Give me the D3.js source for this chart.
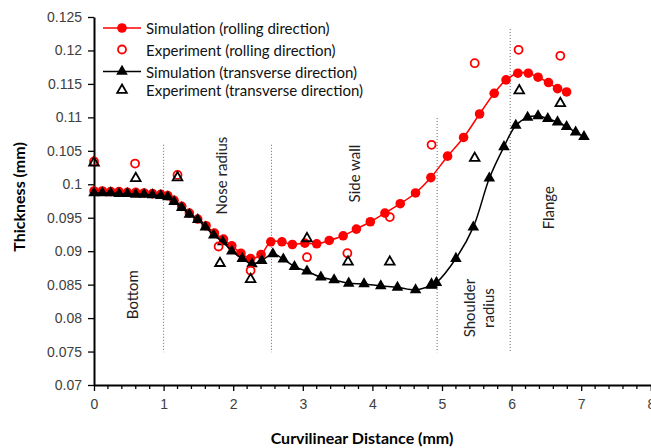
<!DOCTYPE html>
<html>
<head>
<meta charset="utf-8">
<script src="https://cdn.jsdelivr.net/npm/d3@7/dist/d3.min.js"></script>
<style>
  body { margin: 0; background: #fff; }
  svg { display: block; font-family: Lato, 'Open Sans', sans-serif; }
</style>
</head>
<body>
<script>
// Simulation, rolling direction
const simRollX = [0, 0.12, 0.24, 0.36, 0.48, 0.60, 0.72, 0.84, 0.96, 1.06, 1.15, 1.26, 1.37, 1.49, 1.61, 1.73, 1.86, 1.98, 2.11, 2.25, 2.40, 2.54, 2.70, 2.85, 3.03, 3.20, 3.38, 3.58, 3.77, 3.97, 4.18, 4.40, 4.62, 4.84, 5.08, 5.31, 5.54, 5.75, 5.92, 6.09, 6.24, 6.38, 6.53, 6.66, 6.79]
const simRollY = [0.0990, 0.0990, 0.0989, 0.0989, 0.0988, 0.0988, 0.0987, 0.0986, 0.0985, 0.0983, 0.0976, 0.0967, 0.0957, 0.0948, 0.0938, 0.0927, 0.0918, 0.0908, 0.0897, 0.0889, 0.0895, 0.0914, 0.0914, 0.0910, 0.0912, 0.0911, 0.0916, 0.0923, 0.0933, 0.0944, 0.0957, 0.0971, 0.0987, 0.1010, 0.1042, 0.1070, 0.1105, 0.1136, 0.1156, 0.1166, 0.1166, 0.1160, 0.1152, 0.1143, 0.1138]

// Experiment, rolling direction
const expRollX = [0, 0.59, 1.20, 1.79, 2.25, 3.06, 3.64, 4.25, 4.85, 5.47, 6.10, 6.70]
const expRollY = [0.1034, 0.1031, 0.1014, 0.0907, 0.0871, 0.0891, 0.0897, 0.0951, 0.1059, 0.1181, 0.1201, 0.1192]

// Simulation, transverse direction
const simTransX = [0, 0.12, 0.24, 0.36, 0.48, 0.60, 0.72, 0.84, 0.96, 1.06, 1.15, 1.26, 1.37, 1.49, 1.60, 1.72, 1.85, 1.98, 2.13, 2.27, 2.41, 2.57, 2.72, 2.88, 3.06, 3.26, 3.45, 3.66, 3.88, 4.12, 4.36, 4.62, 4.85, 4.92, 5.20, 5.45, 5.68, 5.89, 6.06, 6.23, 6.38, 6.52, 6.66, 6.79, 6.92, 7.04]
const simTransY = [0.0987, 0.0987, 0.0987, 0.0986, 0.0986, 0.0985, 0.0985, 0.0984, 0.0983, 0.0981, 0.0974, 0.0965, 0.0955, 0.0947, 0.0936, 0.0924, 0.0914, 0.0900, 0.0889, 0.0881, 0.0886, 0.0896, 0.0888, 0.0877, 0.0870, 0.0861, 0.0857, 0.0852, 0.0851, 0.0848, 0.0846, 0.0842, 0.0849, 0.0853, 0.0889, 0.0936, 0.1009, 0.1056, 0.1088, 0.1100, 0.1102, 0.1098, 0.1093, 0.1086, 0.1078, 0.1071]

// Experiment, transverse direction
const expTransX = [0, 0.60, 1.20, 1.81, 2.25, 3.06, 3.65, 4.25, 4.85, 5.47, 6.11, 6.70]
const expTransY = [0.1032, 0.1009, 0.1010, 0.0882, 0.0858, 0.0919, 0.0884, 0.0884, 0.0850, 0.1039, 0.1140, 0.1121]

const xTicks = [0, 1, 2, 3, 4, 5, 6, 7, 8]
const yTicks = [0.07, 0.075, 0.08, 0.085, 0.09, 0.095, 0.1, 0.105, 0.11, 0.115, 0.12, 0.125]
const yTickLabels = ['0.07', '0.075', '0.08', '0.085', '0.09', '0.095', '0.1', '0.105', '0.11', '0.115', '0.12', '0.125']

// Region dividers: x position, top and bottom (mm)
const dividerX = [1.0, 2.55, 4.93, 5.98]
const dividerTop = [0.1059, 0.1059, 0.1099, 0.1232]
const dividerBottom = [0.0749, 0.0749, 0.0749, 0.0749]

const regionNames = [['Bottom'], ['Nose radius'], ['Side wall'], ['Shoulder', 'radius'], ['Flange']]
const regionX = [0.56, 1.84, 3.75, 5.53, 6.54]
const regionY = [0.0835, 0.1013, 0.1016, 0.0815, 0.0965]

const legendNames = ['Simulation (rolling direction)', 'Experiment (rolling direction)', 'Simulation (transverse direction)', 'Experiment (transverse direction)']

const width = 651
const height = 448
const margins = { left: 94, right: 0, top: 17, bottom: 63 }
const RED = '#ff0000'

const zip = (xs, ys) => xs.map((x, i) => [x, ys[i]])

const xScale = d3.scaleLinear()
  .domain([0, 8])
  .range([margins.left, 650.8])

const yScale = d3.scaleLinear()
  .domain([0.07, 0.125])
  .range([height - margins.bottom, margins.top])

const svg = d3.select('body').append('svg')
  .attr('width', width)
  .attr('height', height)
  .attr('viewBox', [0, 0, width, height].join(' '))

// Axes
const minorX = d3.range(0, 8.01, 0.2).filter(v => Math.abs(v - Math.round(v)) > 1e-6)

svg.append('g')
  .attr('transform', `translate(0, ${yScale(0.07)})`)
  .selectAll('line')
  .data(minorX)
  .enter().append('line')
  .attr('x1', d => xScale(d))
  .attr('x2', d => xScale(d))
  .attr('y1', 0)
  .attr('y2', 4)
  .attr('stroke', '#000')
  .attr('stroke-width', 1.3)

const xAxis = svg.append('g')
  .attr('transform', `translate(0, ${yScale(0.07)})`)
  .call(d3.axisBottom(xScale).tickValues(xTicks).tickSize(6).tickSizeOuter(0).tickPadding(8).tickFormat(d3.format('d')))

const yAxis = svg.append('g')
  .attr('transform', `translate(${xScale(0)}, 0)`)
  .call(d3.axisLeft(yScale).tickValues(yTicks).tickSize(6).tickSizeOuter(0).tickPadding(6).tickFormat((d, i) => yTickLabels[i]))

;[xAxis, yAxis].forEach(axis => {
  axis.select('.domain').attr('stroke', '#000').attr('stroke-width', 2)
  axis.selectAll('.tick line').attr('stroke', '#000').attr('stroke-width', 1.3)
  axis.selectAll('.tick text')
    .attr('fill', '#404040')
    .style('font-size', '14px')
})

// Axis titles
svg.append('text')
  .attr('x', 362)
  .attr('y', 437)
  .attr('fill', '#000')
  .attr('text-anchor', 'middle')
  .attr('dominant-baseline', 'central')
  .style('font-size', '16px')
  .style('font-weight', 'bold')
  .text('Curvilinear Distance (mm)')

svg.append('text')
  .attr('transform', 'translate(18, 197) rotate(-90)')
  .attr('fill', '#000')
  .attr('text-anchor', 'middle')
  .attr('dominant-baseline', 'central')
  .style('font-size', '16px')
  .style('font-weight', 'bold')
  .text('Thickness (mm)')

// Region dividers and labels
svg.append('g')
  .selectAll('line')
  .data(dividerX)
  .enter().append('line')
  .attr('x1', d => xScale(d))
  .attr('x2', d => xScale(d))
  .attr('y1', (d, i) => yScale(dividerTop[i]))
  .attr('y2', (d, i) => yScale(dividerBottom[i]))
  .attr('stroke', '#666')
  .attr('stroke-width', 1)
  .style('stroke-dasharray', '1, 2')

svg.append('g')
  .selectAll('text')
  .data(regionNames)
  .enter().append('text')
  .attr('transform', (d, i) => `translate(${xScale(regionX[i])}, ${yScale(regionY[i])}) rotate(-90)`)
  .attr('fill', '#222')
  .attr('text-anchor', 'middle')
  .style('font-size', '15px')
  .each(function (lines) {
    const t = d3.select(this)
    lines.forEach((line, j) => {
      t.append('tspan')
        .attr('x', 0)
        .attr('dy', j === 0 ? `${0.35 - (lines.length - 1) * 0.6}em` : '1.25em')
        .text(line)
    })
  })

// Series
const line = d3.line()
  .x(d => xScale(d[0]))
  .y(d => yScale(d[1]))
  .curve(d3.curveCatmullRom.alpha(0.5))

const simRoll = zip(simRollX, simRollY)
const simTrans = zip(simTransX, simTransY)
const expRoll = zip(expRollX, expRollY)
const expTrans = zip(expTransX, expTransY)

const triFilled = d3.symbol().type(d3.symbolTriangle).size(58)
const triOpen = d3.symbol().type(d3.symbolTriangle).size(40)

svg.append('path')
  .datum(simRoll)
  .attr('d', line)
  .attr('fill', 'none')
  .attr('stroke', RED)
  .attr('stroke-width', 1.5)

svg.append('g')
  .selectAll('circle')
  .data(simRoll)
  .enter().append('circle')
  .attr('cx', d => xScale(d[0]))
  .attr('cy', d => yScale(d[1]))
  .attr('r', 4.8)
  .attr('fill', RED)

svg.append('path')
  .datum(simTrans)
  .attr('d', line)
  .attr('fill', 'none')
  .attr('stroke', '#000')
  .attr('stroke-width', 1.5)

svg.append('g')
  .selectAll('path')
  .data(simTrans)
  .enter().append('path')
  .attr('d', triFilled)
  .attr('transform', d => `translate(${xScale(d[0])}, ${yScale(d[1])})`)
  .attr('fill', '#000')

svg.append('g')
  .selectAll('circle')
  .data(expRoll)
  .enter().append('circle')
  .attr('cx', d => xScale(d[0]))
  .attr('cy', d => yScale(d[1]))
  .attr('r', 4)
  .attr('fill', 'none')
  .attr('stroke', RED)
  .attr('stroke-width', 1.8)

svg.append('g')
  .selectAll('path')
  .data(expTrans)
  .enter().append('path')
  .attr('d', triOpen)
  .attr('transform', d => `translate(${xScale(d[0])}, ${yScale(d[1])})`)
  .attr('fill', 'none')
  .attr('stroke', '#000')
  .attr('stroke-width', 1.8)

// Legend
const legendRows = [28, 49.5, 71.5, 90]
const legend = svg.append('g')

legendNames.forEach((name, i) => {
  const g = legend.append('g').attr('transform', `translate(0, ${legendRows[i]})`)
  if (i === 0 || i === 2) {
    g.append('line')
      .attr('x1', 103)
      .attr('x2', 141)
      .attr('stroke', i === 0 ? RED : '#000')
      .attr('stroke-width', 1.5)
  }
  if (i === 0) g.append('circle').attr('cx', 122).attr('r', 4.8).attr('fill', RED)
  if (i === 1) g.append('circle').attr('cx', 122).attr('r', 4).attr('fill', 'none').attr('stroke', RED).attr('stroke-width', 1.8)
  if (i === 2) g.append('path').attr('d', triFilled).attr('transform', 'translate(122, 0)').attr('fill', '#000')
  if (i === 3) g.append('path').attr('d', triOpen).attr('transform', 'translate(122, 0)').attr('fill', 'none').attr('stroke', '#000').attr('stroke-width', 1.8)
  g.append('text')
    .attr('x', 146)
    .attr('dominant-baseline', 'central')
    .attr('fill', '#111')
    .style('font-size', '15px')
    .text(name)
})
</script>
</body>
</html>
